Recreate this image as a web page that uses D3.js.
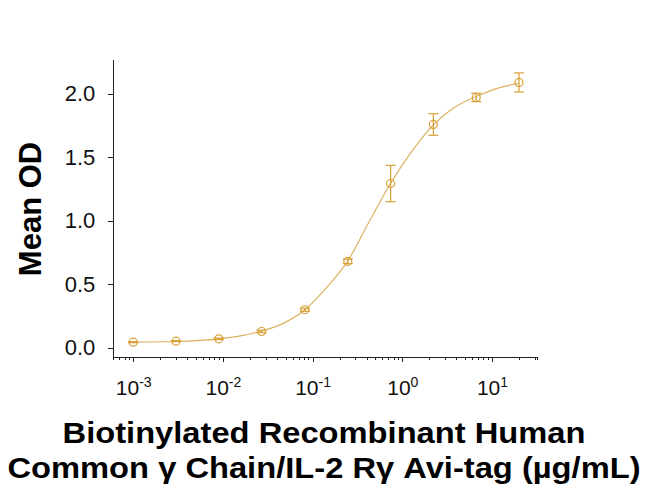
<!DOCTYPE html>
<html>
<head>
<meta charset="utf-8">
<script src="https://cdn.jsdelivr.net/npm/d3@7"></script>
<style>
  body { margin: 0; background: #fff; }
  svg { display: block; }
  .axis path, .axis line { stroke: #222; shape-rendering: crispEdges; }
  .axis text { font-family: Arial, "Liberation Sans", sans-serif; fill: #111; }
</style>
</head>
<body>
<script>
(function(){

    //measured points (concentration in ug/mL, mean OD, error)
    var concValues = [0.001, 0.003, 0.009, 0.027, 0.082, 0.247, 0.741, 2.22, 6.67, 20];
    var odValues = [0.043, 0.051, 0.069, 0.127, 0.298, 0.679, 1.292, 1.757, 1.970, 2.088];
    var errValues = [0.004, 0.004, 0.006, 0.010, 0.012, 0.018, 0.143, 0.085, 0.033, 0.075];

    //fitted curve
    var curveConc = [0.001, 0.00301, 0.00902, 0.0157, 0.0269, 0.0478, 0.0818, 0.1416, 0.245,
                     0.424, 0.738, 1.288, 2.21, 3.75, 6.59, 11.4, 19.8];
    var curveOD = [0.043, 0.048, 0.069, 0.093, 0.130, 0.193, 0.298, 0.469, 0.679,
                   0.987, 1.292, 1.549, 1.752, 1.888, 1.975, 2.041, 2.080];

    //tick labels
    var yTicks = [0, 0.5, 1.0, 1.5, 2.0];
    var xTickExp = [-3, -2, -1, 0, 1];

    var width = 650, height = 492;
    var left = 113.3, right = 537.3, top = 59.3, bottom = 356.5;
    var color = "#D9A036", lineColor = "#DDB160";

    var svg = d3.select("body")
        .append("svg")
        .attr("width", width)
        .attr("height", height);

    var x = d3.scaleLog()
        .domain([0.0006, 32])
        .range([left, right]);

    var y = d3.scaleLinear()
        .domain([-0.07, 2.27])
        .range([bottom, top]);

    //minor ticks for the log axis
    var minorTicks = [];
    [-4, -3, -2, -1, 0, 1].forEach(function(e){
        for (var m = 2; m <= 9; m++){
            var v = m * Math.pow(10, e);
            if (v >= 0.0006 && v <= 32) minorTicks.push(v);
        }
    });

    var xMinor = d3.axisBottom(x)
        .tickValues(minorTicks)
        .tickSize(3)
        .tickFormat("");
    svg.append("g")
        .attr("class", "axis")
        .attr("transform", "translate(0," + bottom + ")")
        .call(xMinor);

    var xAxis = d3.axisBottom(x)
        .tickValues(xTickExp.map(function(e){ return Math.pow(10, e); }))
        .tickSize(5)
        .tickSizeOuter(0)
        .tickFormat("");
    var gx = svg.append("g")
        .attr("class", "axis")
        .attr("transform", "translate(0," + bottom + ")")
        .call(xAxis);

    //power-of-ten labels
    gx.selectAll(".tick").each(function(d, i){
        var t = d3.select(this).append("text")
            .attr("y", 38.5)
            .attr("text-anchor", "middle")
            .style("font-size", "21px");
        t.append("tspan").text("10");
        t.append("tspan")
            .attr("dy", -8.5)
            .style("font-size", "14px")
            .text(xTickExp[i]);
    });

    var yAxis = d3.axisLeft(y)
        .tickValues(yTicks)
        .tickSize(5)
        .tickSizeOuter(0)
        .tickPadding(13)
        .tickFormat(d3.format(".1f"));
    svg.append("g")
        .attr("class", "axis")
        .attr("transform", "translate(" + left + ",0)")
        .call(yAxis)
        .selectAll("text")
        .style("font-size", "22px");

    //fitted curve
    var line = d3.line()
        .x(function(d){ return x(d[0]); })
        .y(function(d){ return y(d[1]); })
        .curve(d3.curveMonotoneX);

    svg.append("path")
        .datum(d3.zip(curveConc, curveOD))
        .attr("d", line)
        .attr("fill", "none")
        .attr("stroke", lineColor)
        .attr("stroke-width", 1.2);

    var pts = d3.zip(concValues, odValues, errValues);

    //error bars
    var bars = svg.selectAll(".err")
        .data(pts)
        .enter()
        .append("g")
        .attr("class", "err")
        .attr("stroke", color)
        .attr("stroke-width", 1.2);

    bars.append("line")
        .attr("x1", function(d){ return x(d[0]); })
        .attr("x2", function(d){ return x(d[0]); })
        .attr("y1", function(d){ return y(d[1] + d[2]); })
        .attr("y2", function(d){ return y(d[1] - d[2]); });
    bars.append("line")
        .attr("x1", function(d){ return x(d[0]) - 5; })
        .attr("x2", function(d){ return x(d[0]) + 5; })
        .attr("y1", function(d){ return y(d[1] + d[2]); })
        .attr("y2", function(d){ return y(d[1] + d[2]); });
    bars.append("line")
        .attr("x1", function(d){ return x(d[0]) - 5; })
        .attr("x2", function(d){ return x(d[0]) + 5; })
        .attr("y1", function(d){ return y(d[1] - d[2]); })
        .attr("y2", function(d){ return y(d[1] - d[2]); });

    //markers
    svg.selectAll(".dot")
        .data(pts)
        .enter()
        .append("circle")
        .attr("class", "dot")
        .attr("cx", function(d){ return x(d[0]); })
        .attr("cy", function(d){ return y(d[1]); })
        .attr("r", 4)
        .attr("fill", "none")
        .attr("stroke", color)
        .attr("stroke-width", 1.2);

    //axis titles
    svg.append("text")
        .attr("transform", "translate(41,209) rotate(-90)")
        .attr("text-anchor", "middle")
        .style("font-family", "Arial, 'Liberation Sans', sans-serif")
        .style("font-weight", "bold")
        .style("font-size", "31px")
        .text("Mean OD");

    var titleLines = ["Biotinylated Recombinant Human",
                      "Common \u03b3 Chain/IL-2 R\u03b3 Avi-tag (\u00b5g/mL)"];
    svg.selectAll(".xtitle")
        .data(titleLines)
        .enter()
        .append("text")
        .attr("class", "xtitle")
        .attr("transform", function(d, i){
            return "translate(324," + (443.3 + i * 35) + ") scale(1.09,1)";
        })
        .attr("text-anchor", "middle")
        .style("font-family", "Arial, 'Liberation Sans', sans-serif")
        .style("font-weight", "bold")
        .style("font-size", "30px")
        .text(function(d){ return d; });

})();
</script>
</body>
</html>
